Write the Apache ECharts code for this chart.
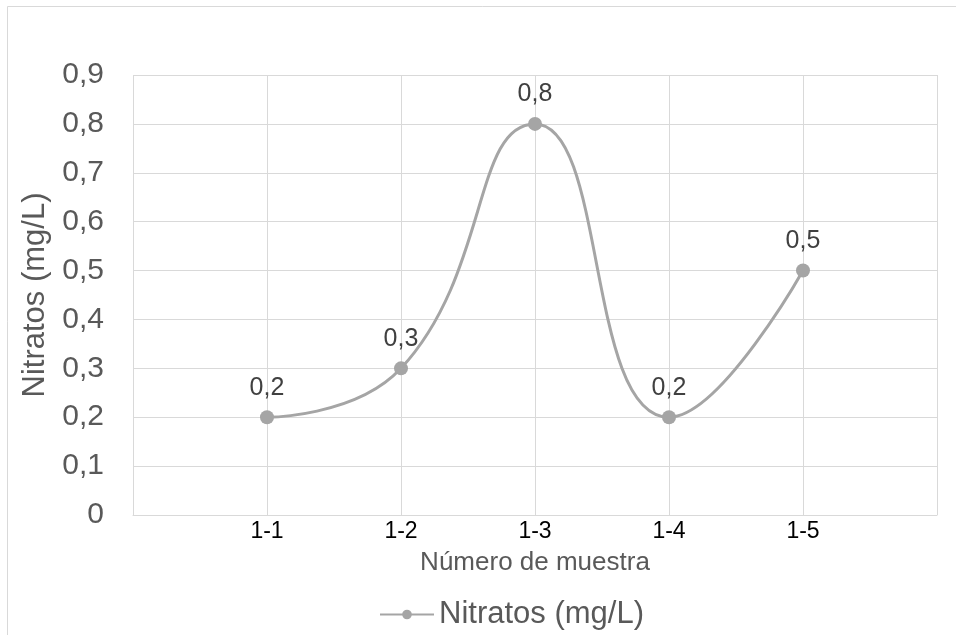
<!DOCTYPE html>
<html><head><meta charset="utf-8">
<script src="https://cdn.jsdelivr.net/npm/echarts@6/dist/echarts.min.js"></script>
<style>html,body{margin:0;padding:0;background:#fff}#c{width:956px;height:635px}</style>
</head><body><div id="c"></div>
<script>
const categories = ["", "1-1", "1-2", "1-3", "1-4", "1-5", ""];
const nitratos = ["-", 0.2, 0.3, 0.8, 0.2, 0.5, "-"];
const seriesName = "Nitratos (mg/L)";
const xTitle = "Número de muestra";
const yTitle = "Nitratos (mg/L)";

const chart = echarts.init(document.getElementById('c'));
chart.setOption({
  animation: false,
  backgroundColor: '#fff',
  graphic: [{type:'rect', shape:{x:7.5,y:6.5,width:960,height:640}, style:{fill:'none', stroke:'#d9d9d9', lineWidth:1}, z:-1}],
  grid: {left:133, right:19, top:75, bottom:120, containLabel:false},
  xAxis: {
    type:'category', data: categories, boundaryGap:false,
    axisLine:{show:true, lineStyle:{color:'#d9d9d9', width:1}},
    axisTick:{show:false},
    axisLabel:{color:'#000', fontSize:23, fontFamily:'Liberation Sans', margin:5, interval:0},
    splitLine:{show:true, lineStyle:{color:'#d9d9d9', width:1}},
    name: xTitle, nameLocation:'middle', nameGap:35,
    nameTextStyle:{color:'#595959', fontSize:26, fontFamily:'Liberation Sans'}
  },
  yAxis: {
    type:'value', min:0, max:0.9, interval:0.1,
    axisLine:{show:false}, axisTick:{show:false},
    axisLabel:{color:'#595959', fontSize:30, fontFamily:'Liberation Sans', margin:29,
      formatter: v => (Math.round(v*10)/10).toString().replace('.', ',')},
    splitLine:{show:true, lineStyle:{color:'#d9d9d9', width:1}},
    name: yTitle, nameLocation:'middle', nameGap:81, nameRotate:90,
    nameTextStyle:{color:'#595959', fontSize:31, fontFamily:'Liberation Sans'}
  },
  legend: {
    top:594, left:374, itemWidth:54, itemHeight:12, itemGap:10,
    textStyle:{color:'#595959', fontSize:31, fontFamily:'Liberation Sans'},
    data:[seriesName]
  },
  series: [{
    name: seriesName, type:'line', data: nitratos, smooth:0.5,
    symbol:'circle', symbolSize:14, connectNulls:false,
    itemStyle:{color:'#a5a5a5'},
    lineStyle:{color:'#a5a5a5', width:3},
    label:{show:true, position:'top', distance:10, color:'#404040', fontSize:25, fontFamily:'Liberation Sans',
      formatter: p => String(p.value).replace('.', ',')}
  }]
});
</script></body></html>
